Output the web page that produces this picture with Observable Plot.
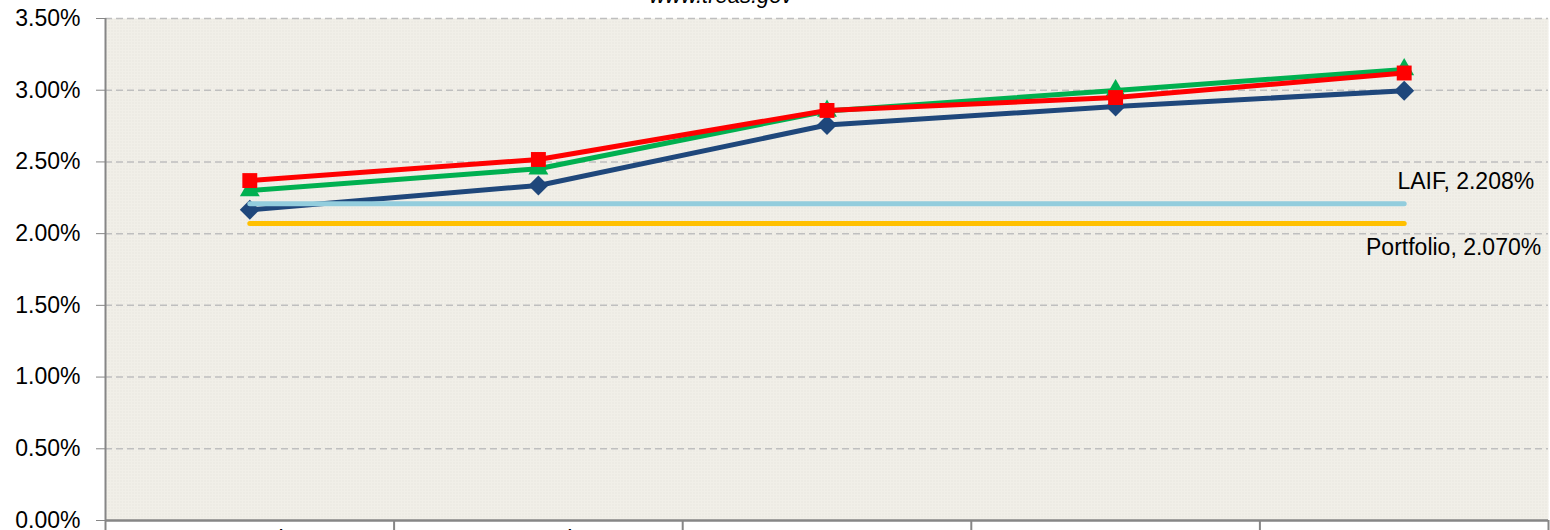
<!DOCTYPE html>
<html><head><meta charset="utf-8">
<script src="https://cdn.jsdelivr.net/npm/d3@7"></script>
<script src="https://cdn.jsdelivr.net/npm/@observablehq/plot@0.6"></script>
<style>
html,body{margin:0;padding:0;background:#fff;overflow:hidden;width:1550px;height:530px;}
#wrap{position:relative;width:1550px;height:530px;overflow:hidden;}
#title{position:absolute;top:-15px;left:571px;width:300px;text-align:center;font:italic 22px "Liberation Sans";line-height:22px;color:#000;}
#chart{position:absolute;top:0;left:0;}
</style></head><body>
<div id="wrap"><div id="chart"></div><div id="title">www.treas.gov</div></div>
<script>
// ---- data ----
const categories = ["3 Month", "6 Month", "1 Year", "2 Year", "3 Year"];
const seriesNames = ["Treasury (prior)", "Treasury (mid)", "Treasury (current)"];
const seriesNavy  = [0.02166, 0.02336, 0.02757, 0.02886, 0.02996];
const seriesGreen = [0.02300, 0.02452, 0.02855, 0.02998, 0.03145];
const seriesRed   = [0.02370, 0.02517, 0.02859, 0.02949, 0.03120];
const laifRate = 0.02208;
const portfolioRate = 0.02070;
const yTicks = [0, 0.005, 0.01, 0.015, 0.02, 0.025, 0.03, 0.035];

// ---- build rows ----
const xOf = c => categories.indexOf(c) + 0.5;
const rows = (vals) => categories.map((c, i) => ({cat: c, v: vals[i]}));
const flat = (v) => [{cat: categories[0], v}, {cat: categories[categories.length - 1], v}];
const series = [
  {name: seriesNames[0], data: rows(seriesNavy),  color: "#1F477B", symbol: "diamond2",  r: 9},
  {name: seriesNames[1], data: rows(seriesGreen), color: "#00B050", symbol: "triangle2", r: 9.5},
  {name: seriesNames[2], data: rows(seriesRed),   color: "#FF0000", symbol: "square2",   r: 9.5}
];
const boundaries = d3.range(categories.length + 1);

const marks = [
  Plot.frame({fill: "url(#bgpat)", stroke: "none"}),
  Plot.ruleY(yTicks.slice(1), {stroke: "#BFBFBF", strokeWidth: 1.5, strokeDasharray: "7,4"}),
  Plot.ruleX([0], {stroke: "#868686", strokeWidth: 2}),
  Plot.ruleY([0], {stroke: "#868686", strokeWidth: 2.5}),
  Plot.ruleX(boundaries, {x: d => d, y1: 0, y2: -0.0008, stroke: "#868686", strokeWidth: 2}),
  Plot.axisY(yTicks, {tickFormat: d3.format(".2%"), tickSize: 9, tickPadding: 16, stroke: "#868686", fill: "#000", label: null, fontSize: 23}),
  Plot.text(categories, {x: d => xOf(d), y: 0, dy: 19, text: d => d, fontSize: 23, fill: "#000"})
];
for (const s of series) {
  marks.push(Plot.line(s.data, {x: d => xOf(d.cat), y: "v", stroke: s.color, strokeWidth: 5}));
  marks.push(Plot.dot(s.data, {x: d => xOf(d.cat), y: "v", symbol: s.symbol, r: s.r, fill: s.color, stroke: "none"}));
}
marks.push(
  Plot.line(flat(laifRate), {x: d => xOf(d.cat), y: "v", stroke: "#93CDDD", strokeWidth: 5, strokeLinecap: "round"}),
  Plot.line(flat(portfolioRate), {x: d => xOf(d.cat), y: "v", stroke: "#FFC000", strokeWidth: 5, strokeLinecap: "round"}),
  Plot.text([laifRate], {x: () => xOf(categories[4]), y: d => d, dx: 130, dy: -22, textAnchor: "end",
    text: d => "LAIF, " + d3.format(".3%")(d), fontSize: 23, fill: "#000"}),
  Plot.text([portfolioRate], {x: () => xOf(categories[4]), y: d => d, dx: 137, dy: 24, textAnchor: "end",
    text: d => "Portfolio, " + d3.format(".3%")(d), fontSize: 23, fill: "#000"})
);

const svg = Plot.plot({
  width: 1550, height: 560,
  marginLeft: 105, marginRight: 2, marginTop: 18, marginBottom: 40,
  x: {type: "linear", domain: [0, categories.length], axis: null},
  y: {domain: [0, 0.035]},
  style: {fontFamily: "Liberation Sans", fontSize: "23px", color: "#000", background: "transparent", overflow: "visible"},
  marks
});
d3.select(svg).insert("defs", ":first-child").html(
  '<pattern id="bgpat" width="3" height="3" patternUnits="userSpaceOnUse">' +
  '<rect width="3" height="3" fill="#F1EFE8"/><rect width="1" height="1" fill="#E2DFD6"/></pattern>');
document.getElementById("chart").append(svg);
</script>
</body></html>
